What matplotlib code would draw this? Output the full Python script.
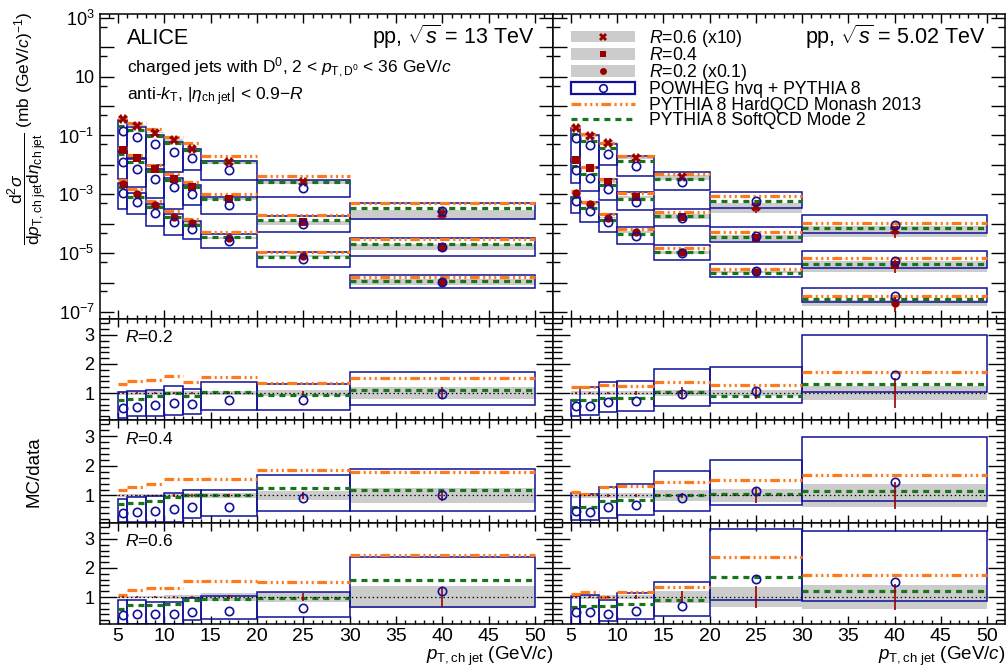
import numpy as np
import matplotlib
matplotlib.use("Agg")
import matplotlib.pyplot as plt
from matplotlib.patches import Patch
from matplotlib.lines import Line2D
from matplotlib.ticker import MultipleLocator, LogLocator, FuncFormatter, NullFormatter

plt.rcParams["font.family"] = ["Liberation Sans", "DejaVu Sans"]
plt.rcParams["mathtext.fontset"] = "custom"
plt.rcParams["mathtext.rm"] = "Liberation Sans"
plt.rcParams["mathtext.it"] = "Liberation Sans:italic"
plt.rcParams["mathtext.sf"] = "Liberation Sans"
plt.rcParams["lines.scale_dashes"] = False
plt.rcParams["axes.linewidth"] = 1.1

C_DATA = "#990000"
C_POWHEG = "#10109a"
C_HARD = "#ff7a1a"
C_SOFT = "#1a751a"
C_SYST = "#cccccc"
HARD_DASH = (0, (7, 2.5, 1.5, 2.5, 1.5, 2.5, 1.5, 2.5))
SOFT_DASH = (0, (4.3, 3.6))

# jet pT bins (GeV/c)
edges_13 = [5, 6, 8, 10, 12, 14, 20, 30, 50]
edges_5 = [5, 6, 8, 10, 14, 20, 30, 50]

radii = ["0.6", "0.4", "0.2"]
scale = {"0.6": 10, "0.4": 1, "0.2": 0.1}
marker = {"0.6": "X", "0.4": "s", "0.2": "o"}
msize = {"0.6": 6.5, "0.4": 6.0, "0.2": 6.0}

# measured cross sections, mb (GeV/c)^-1 (unscaled)
xsec_13_r06 = [0.0363, 0.0214, 0.0126, 0.00708, 0.00347, 0.00129, 2.69e-4, 2.14e-5]
xsec_13_r04 = [0.0324, 0.0174, 0.00724, 0.00324, 0.00174, 6.76e-4, 1.10e-4, 1.66e-5]
xsec_13_r02 = [0.0229, 0.0105, 0.00417, 0.00174, 0.00105, 3.39e-4, 8.13e-5, 1.05e-5]
xsec_5_r06 = [0.0174, 0.00977, 0.0055, 0.00174, 3.8e-4, 3.63e-5, 5.9e-6]
xsec_5_r04 = [0.0145, 0.00776, 0.00257, 8.3e-4, 1.74e-4, 3.39e-5, 3.89e-6]
xsec_5_r02 = [0.0107, 0.00468, 0.00162, 5.25e-4, 1.05e-4, 2.29e-5, 2.09e-6]

# relative uncertainties of the data
syst_13_r02 = [0.06, 0.06, 0.06, 0.06, 0.07, 0.08, 0.10, 0.22]
stat_13_r02 = [0.02, 0.02, 0.02, 0.03, 0.04, 0.05, 0.08, 0.20]
syst_13_r04 = [0.06, 0.06, 0.06, 0.06, 0.07, 0.08, 0.15, 0.25]
stat_13_r04 = [0.02, 0.02, 0.03, 0.04, 0.05, 0.06, 0.12, 0.20]
syst_13_r06 = [0.05, 0.05, 0.05, 0.06, 0.08, 0.15, 0.18, 0.38]
stat_13_r06 = [0.02, 0.02, 0.03, 0.04, 0.05, 0.08, 0.15, 0.35]
syst_5_r02 = [0.06, 0.06, 0.06, 0.07, 0.10, 0.10, 0.25]
stat_5_r02 = [0.02, 0.03, 0.04, 0.06, 0.20, 0.20, 0.52]
syst_5_r04 = [0.07, 0.07, 0.07, 0.08, 0.20, 0.22, 0.40]
stat_5_r04 = [0.02, 0.03, 0.04, 0.06, 0.10, 0.25, 0.46]
syst_5_r06 = [0.07, 0.07, 0.07, 0.08, 0.20, 0.35, 0.40]
stat_5_r06 = [0.02, 0.03, 0.04, 0.08, 0.20, 0.37, 0.45]

# MC / data ratios
powheg_13_r02 = [0.47, 0.52, 0.57, 0.67, 0.62, 0.77, 0.77, 0.97]
powheg_lo_13_r02 = [0.14, 0.20, 0.20, 0.23, 0.29, 0.43, 0.43, 0.60]
powheg_hi_13_r02 = [1.03, 1.08, 1.09, 1.25, 1.15, 1.37, 1.30, 1.72]
hard_13_r02 = [1.32, 1.43, 1.46, 1.57, 1.39, 1.54, 1.36, 1.51]
soft_13_r02 = [0.75, 0.80, 0.89, 1.00, 0.89, 1.02, 0.92, 1.09]

powheg_13_r04 = [0.40, 0.43, 0.47, 0.55, 0.60, 0.62, 0.91, 1.00]
powheg_lo_13_r04 = [0.10, 0.10, 0.10, 0.10, 0.24, 0.31, 0.48, 0.48]
powheg_hi_13_r04 = [0.87, 0.94, 0.98, 1.09, 1.17, 1.20, 1.69, 1.90]
hard_13_r04 = [1.17, 1.29, 1.40, 1.54, 1.55, 1.55, 1.86, 1.78]
soft_13_r04 = [0.71, 0.74, 0.83, 0.94, 1.00, 1.02, 1.25, 1.20]

powheg_13_r06 = [0.38, 0.40, 0.40, 0.40, 0.48, 0.52, 0.61, 1.22]
powheg_lo_13_r06 = [0.08, 0.08, 0.08, 0.08, 0.20, 0.24, 0.30, 0.66]
powheg_hi_13_r06 = [0.89, 0.89, 0.82, 0.82, 0.97, 1.02, 1.17, 2.37]
hard_13_r06 = [1.08, 1.25, 1.30, 1.30, 1.55, 1.55, 1.52, 2.44]
soft_13_r06 = [0.60, 0.71, 0.74, 0.76, 0.91, 0.94, 0.97, 1.57]

powheg_5_r02 = [0.54, 0.56, 0.68, 0.72, 0.95, 1.06, 1.61]
powheg_lo_5_r02 = [0.22, 0.24, 0.33, 0.39, 0.56, 0.66, 1.02]
powheg_hi_5_r02 = [0.75, 1.21, 1.37, 1.43, 1.84, 1.89, 3.00]
hard_5_r02 = [1.22, 1.20, 1.28, 1.25, 1.39, 1.28, 1.72]
soft_5_r02 = [0.75, 0.75, 0.84, 0.83, 1.02, 0.91, 1.30]

powheg_5_r04 = [0.47, 0.45, 0.60, 0.68, 0.91, 1.14, 1.44]
powheg_lo_5_r04 = [0.17, 0.17, 0.24, 0.34, 0.48, 0.69, 0.80]
powheg_hi_5_r04 = [1.08, 1.06, 1.29, 1.40, 1.82, 2.20, 2.98]
hard_5_r04 = [1.11, 1.06, 1.29, 1.31, 1.44, 1.52, 1.69]
soft_5_r04 = [0.62, 0.62, 0.83, 0.85, 1.02, 1.06, 1.14]

powheg_5_r06 = [0.47, 0.47, 0.41, 0.53, 0.70, 1.63, 1.52]
powheg_lo_5_r06 = [0.08, 0.08, 0.18, 0.25, 0.36, 0.91, 0.85]
powheg_hi_5_r06 = [1.02, 1.07, 0.91, 1.14, 1.52, 3.36, 3.29]
hard_5_r06 = [1.11, 1.18, 1.00, 1.18, 1.33, 2.38, 1.76]
soft_5_r06 = [0.67, 0.68, 0.68, 0.76, 0.89, 1.68, 1.20]


def pack(xsec, syst, stat, pw, lo, hi, hard, soft):
    return {k: np.asarray(v, float) for k, v in dict(
        xsec=xsec, syst=syst, stat=stat, pow=pw, lo=lo, hi=hi, hard=hard, soft=soft).items()}


sets_13 = {
    "0.2": pack(xsec_13_r02, syst_13_r02, stat_13_r02, powheg_13_r02, powheg_lo_13_r02,
                powheg_hi_13_r02, hard_13_r02, soft_13_r02),
    "0.4": pack(xsec_13_r04, syst_13_r04, stat_13_r04, powheg_13_r04, powheg_lo_13_r04,
                powheg_hi_13_r04, hard_13_r04, soft_13_r04),
    "0.6": pack(xsec_13_r06, syst_13_r06, stat_13_r06, powheg_13_r06, powheg_lo_13_r06,
                powheg_hi_13_r06, hard_13_r06, soft_13_r06),
}
sets_5 = {
    "0.2": pack(xsec_5_r02, syst_5_r02, stat_5_r02, powheg_5_r02, powheg_lo_5_r02,
                powheg_hi_5_r02, hard_5_r02, soft_5_r02),
    "0.4": pack(xsec_5_r04, syst_5_r04, stat_5_r04, powheg_5_r04, powheg_lo_5_r04,
                powheg_hi_5_r04, hard_5_r04, soft_5_r04),
    "0.6": pack(xsec_5_r06, syst_5_r06, stat_5_r06, powheg_5_r06, powheg_lo_5_r06,
                powheg_hi_5_r06, hard_5_r06, soft_5_r06),
}


def bins(edges):
    e = np.asarray(edges, float)
    return e[:-1], np.diff(e), 0.5 * (e[:-1] + e[1:])


def draw_set(ax, edges, d, norm, mk=None, ms=6):
    # norm = 1 in the ratio panels, data values in the spectrum panel
    left, width, mid = bins(edges)
    ax.bar(left, 2 * d["syst"] * norm, width, bottom=norm * (1 - d["syst"]),
           align="edge", color=C_SYST, lw=0, zorder=1)
    ax.bar(left, norm * (d["hi"] - d["lo"]), width, bottom=norm * d["lo"],
           align="edge", fill=False, edgecolor=C_POWHEG, lw=1.1, zorder=2)
    ax.hlines(norm * d["hard"], left, left + width, colors=C_HARD,
              linestyles=[HARD_DASH], lw=2.3, zorder=3)
    ax.hlines(norm * d["soft"], left, left + width, colors=C_SOFT,
              linestyles=[SOFT_DASH], lw=2.3, zorder=3)
    yv = norm * np.ones_like(mid)
    ax.errorbar(mid, yv, yerr=norm * d["stat"], fmt="none", ecolor=C_DATA,
                elinewidth=1.2, zorder=5)
    if mk is not None:
        ax.plot(mid, yv, mk, color=C_DATA, ms=ms, mew=0, ls="none", zorder=5)
    ax.plot(mid, norm * d["pow"], "o", mfc="none", mec=C_POWHEG, ms=6, mew=1.2,
            ls="none", zorder=6)


def log_label(v, pos):
    e = int(round(np.log10(v)))
    if e % 2 == 0:
        return ""
    if e == 1:
        return "10"
    return r"$10^{%d}$" % e


W, H = 1006, 671
fig = plt.figure(figsize=(W / 100, H / 100), dpi=100)

col_x = [(100, 453), (553, 452)]
rows = [(14, 305), (319, 101), (420, 103), (523, 101)]

axes = []
for ci, (x0, w) in enumerate(col_x):
    col = []
    for ri, (y0, h) in enumerate(rows):
        ax = fig.add_axes([x0 / W, 1 - (y0 + h) / H, w / W, h / H])
        col.append(ax)
    axes.append(col)

for ci, (edges, sets) in enumerate([(edges_13, sets_13), (edges_5, sets_5)]):
    top = axes[ci][0]
    for r in radii:
        d = sets[r]
        draw_set(top, edges, d, d["xsec"] * scale[r], mk=marker[r], ms=msize[r])
    for ri, r in enumerate(["0.2", "0.4", "0.6"]):
        ax = axes[ci][ri + 1]
        draw_set(ax, edges, sets[r], 1.0)
        ax.hlines(1, 5, 50, colors="k", linestyles=[(0, (1, 2))], lw=0.9, zorder=4)

for ci in range(2):
    for ri in range(4):
        ax = axes[ci][ri]
        ax.set_xlim(3.05, 51.95)
        ax.xaxis.set_major_locator(MultipleLocator(5))
        ax.xaxis.set_minor_locator(MultipleLocator(1))
        ax.tick_params(which="both", direction="in", top=True, right=True, width=1.0)
        ax.tick_params(axis="x", labelsize=14, pad=3)
        ax.tick_params(axis="y", labelsize=13, pad=4)
        if ri == 0:
            ax.set_yscale("log")
            ax.set_ylim(10 ** -7.24, 10 ** 3.13)
            ax.yaxis.set_major_locator(LogLocator(base=10, numticks=30))
            ax.yaxis.set_minor_locator(LogLocator(base=10, subs=(0.5,), numticks=30))
            ax.yaxis.set_major_formatter(FuncFormatter(log_label))
            ax.yaxis.set_minor_formatter(NullFormatter())
            ax.tick_params(axis="x", which="major", length=6.5)
            ax.tick_params(axis="x", which="minor", length=3.2)
            ax.tick_params(axis="y", which="major", length=10)
            ax.tick_params(axis="y", which="minor", length=5)
        else:
            ax.set_ylim(0.07, 3.55)
            ax.yaxis.set_major_locator(MultipleLocator(1))
            ax.yaxis.set_minor_locator(MultipleLocator(0.2))
            ax.yaxis.set_major_formatter(FuncFormatter(lambda v, p: "%d" % round(v)))
            ax.tick_params(axis="x", which="major", length=5.8)
            ax.tick_params(axis="x", which="minor", length=2.9)
            ax.tick_params(axis="y", which="major", length=12)
            ax.tick_params(axis="y", which="minor", length=6.5)
        if ri < 3:
            ax.tick_params(axis="x", labelbottom=False)
        if ci == 1:
            ax.tick_params(axis="y", labelleft=False)

# texts, spectrum panels
tl = axes[0][0]
tl.text(0.0596, 0.9016, "ALICE", transform=tl.transAxes, fontsize=15.5)
tl.text(0.960, 0.9016, r"pp, $\sqrt{s}$ = 13 TeV", transform=tl.transAxes,
        fontsize=15.5, ha="right")
tl.text(0.0596, 0.8056, r"charged jets with D$^{0}$, 2 < $p_{\mathrm{T,D^{0}}}$ < 36 GeV/$c$",
        transform=tl.transAxes, fontsize=12.5)
tl.text(0.0596, 0.716, r"anti-$k_{\mathrm{T}}$, $|\eta_{\mathrm{ch\ jet}}|$ < 0.9$-R$",
        transform=tl.transAxes, fontsize=12.5)

tr = axes[1][0]
tr.text(0.956, 0.9016, r"pp, $\sqrt{s}$ = 5.02 TeV", transform=tr.transAxes,
        fontsize=15.5, ha="right")

handles = []
for r in radii:
    handles.append((Patch(facecolor=C_SYST, edgecolor="none"),
                    Line2D([], [], marker=marker[r], color=C_DATA, ls="none",
                           ms=msize[r] - 1, mew=0)))
handles.append((Patch(facecolor="white", edgecolor=C_POWHEG, lw=1.6),
                Line2D([], [], marker="o", mfc="none", mec=C_POWHEG, ls="none", ms=5.5, mew=1.2)))
handles.append(Line2D([], [], color=C_HARD, lw=2.3, ls=HARD_DASH))
handles.append(Line2D([], [], color=C_SOFT, lw=2.3, ls=SOFT_DASH))
labels = [r"$R$=0.6 (x10)", r"$R$=0.4", r"$R$=0.2 (x0.1)", "POWHEG hvq + PYTHIA 8",
          "PYTHIA 8 HardQCD Monash 2013", "PYTHIA 8 SoftQCD Mode 2"]
tr.legend(handles, labels, loc="upper left", bbox_to_anchor=(0.0398, 0.955),
          frameon=False, fontsize=12.7, borderpad=0, borderaxespad=0,
          handlelength=3.65, handleheight=0.63, handletextpad=0.8, labelspacing=-0.1)

# ratio panel labels
for ri, r in enumerate(["0.2", "0.4", "0.6"]):
    ax = axes[0][ri + 1]
    ax.text(0.055, 0.77, r"$R$=%s" % r, transform=ax.transAxes, fontsize=12.5)

for ci in range(2):
    ax = axes[ci][3]
    ax.text(1.0, -0.355, r"$p_{\mathrm{T,ch\ jet}}$ (GeV/$c$)", transform=ax.transAxes,
            fontsize=13.5, ha="right", va="baseline")

fig.text(34 / W, 1 - 472 / H, "MC/data", rotation=90, ha="center", va="center", fontsize=13.5)
fig.text(27 / W, 1 - 128 / H,
         r"$\dfrac{\mathrm{d}^{2}\sigma}{\mathrm{d}p_{\mathrm{T,ch\ jet}}\mathrm{d}\eta_{\mathrm{ch\ jet}}}$"
         r" (mb (GeV/$c$)$^{-1}$)",
         rotation=90, ha="center", va="center", fontsize=12.5)

fig.savefig("out.png", dpi=100)
